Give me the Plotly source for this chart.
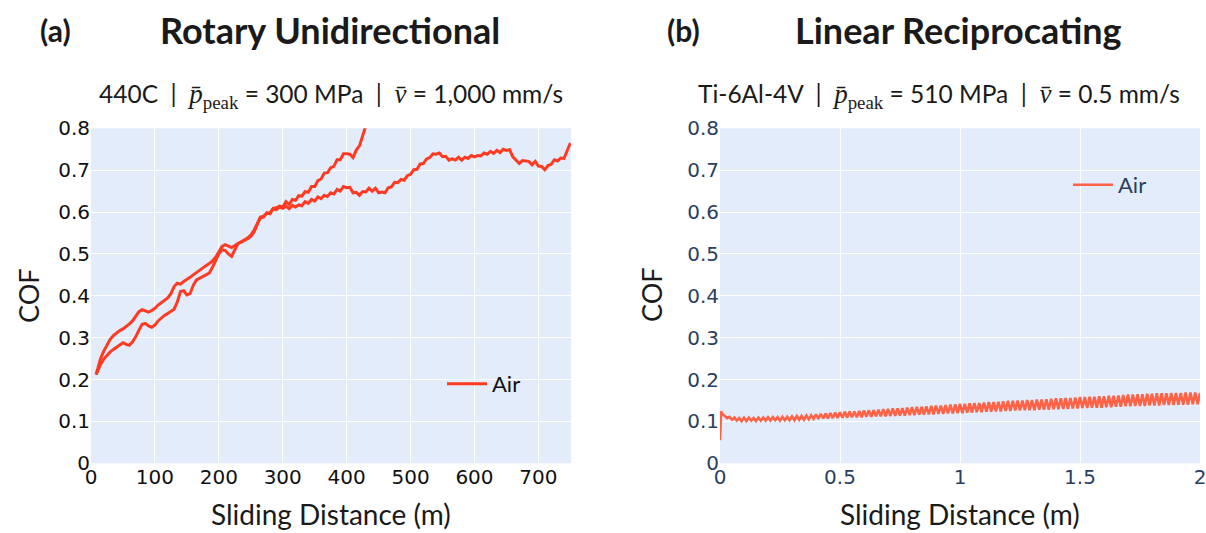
import plotly.graph_objects as go

# ---------------- data: panel (a) Rotary Unidirectional, 440C ----------------
dist_a1 = [8, 10, 15, 20, 25, 30, 35, 40, 45, 50, 55, 60, 65, 70, 75, 80, 85, 90, 95, 100,
           105, 110, 115, 120, 125, 130, 135, 140, 145, 150, 155, 160, 165, 170, 175, 180,
           185, 190, 195, 200, 205, 210, 215, 220, 225, 230, 235, 240, 245, 250, 255, 260,
           265, 270, 275, 280, 285, 290, 295, 300, 305, 310, 315, 320, 325, 330, 335, 340,
           345, 350, 355, 360, 365, 370, 375, 380, 385, 390, 395, 400, 405, 410, 415, 420,
           425, 430, 435]
cof_a1 = [0.212, 0.225, 0.250, 0.268, 0.283, 0.296, 0.305, 0.312, 0.317, 0.321, 0.326, 0.333,
          0.340, 0.350, 0.362, 0.367, 0.363, 0.361, 0.365, 0.370, 0.378, 0.384, 0.389, 0.395,
          0.405, 0.422, 0.430, 0.428, 0.434, 0.438, 0.444, 0.450, 0.456, 0.460, 0.466, 0.472,
          0.477, 0.483, 0.492, 0.505, 0.518, 0.522, 0.518, 0.515, 0.520, 0.524, 0.528, 0.533,
          0.538, 0.545, 0.556, 0.572, 0.588, 0.590, 0.598, 0.598, 0.609, 0.610, 0.614, 0.612,
          0.625, 0.618, 0.630, 0.628, 0.639, 0.638, 0.649, 0.647, 0.661, 0.661, 0.675, 0.679,
          0.693, 0.694, 0.706, 0.709, 0.725, 0.725, 0.739, 0.739, 0.738, 0.730, 0.748, 0.758,
          0.782, 0.802, 0.830]

dist_a2 = [8, 10, 15, 20, 25, 30, 35, 40, 45, 50, 55, 60, 65, 70, 75, 80, 85, 90, 95, 100,
           105, 110, 115, 120, 125, 130, 135, 140, 145, 150, 155, 160, 165, 170, 175, 180,
           185, 190, 195, 200, 205, 210, 215, 220, 225, 230, 235, 240, 245, 250, 255, 260,
           265, 270, 275, 280, 285, 290, 295, 300, 305, 310, 315, 320, 325, 330, 335, 340,
           345, 350, 355, 360, 365, 370, 375, 380, 385, 390, 395, 400, 405, 410, 415, 420,
           425, 430, 435, 440, 445, 450, 455, 460, 465, 470, 475, 480, 485, 490, 495, 500,
           505, 510, 515, 520, 525, 530, 535, 540, 545, 550, 555, 560, 565, 570, 575, 580,
           585, 590, 595, 600, 605, 610, 615, 620, 625, 630, 635, 640, 645, 650, 655, 660,
           665, 670, 675, 680, 685, 690, 695, 700, 705, 710, 715, 720, 725, 730, 735, 740,
           745, 750]
cof_a2 = [0.212, 0.220, 0.236, 0.249, 0.258, 0.266, 0.272, 0.278, 0.284, 0.288, 0.284, 0.282,
          0.290, 0.302, 0.318, 0.332, 0.334, 0.328, 0.325, 0.330, 0.340, 0.347, 0.353, 0.358,
          0.362, 0.368, 0.385, 0.410, 0.412, 0.402, 0.405, 0.425, 0.438, 0.442, 0.446, 0.450,
          0.454, 0.468, 0.485, 0.500, 0.510, 0.508, 0.500, 0.494, 0.510, 0.525, 0.528, 0.532,
          0.536, 0.542, 0.552, 0.570, 0.586, 0.588, 0.598, 0.596, 0.608, 0.606, 0.612, 0.609,
          0.614, 0.608, 0.616, 0.612, 0.617, 0.615, 0.625, 0.621, 0.630, 0.626, 0.636, 0.632,
          0.640, 0.637, 0.646, 0.643, 0.654, 0.650, 0.661, 0.658, 0.659, 0.646, 0.647, 0.640,
          0.649, 0.648, 0.657, 0.650, 0.657, 0.646, 0.648, 0.646, 0.658, 0.660, 0.671, 0.670,
          0.678, 0.676, 0.687, 0.690, 0.701, 0.702, 0.715, 0.716, 0.727, 0.730, 0.739, 0.738,
          0.741, 0.732, 0.733, 0.724, 0.727, 0.724, 0.731, 0.724, 0.731, 0.728, 0.735, 0.732,
          0.735, 0.734, 0.741, 0.738, 0.745, 0.740, 0.747, 0.742, 0.750, 0.747, 0.749, 0.732,
          0.725, 0.716, 0.723, 0.722, 0.721, 0.713, 0.721, 0.710, 0.709, 0.701, 0.711, 0.714,
          0.725, 0.722, 0.729, 0.728, 0.748, 0.765]

# ---------------- data: panel (b) Linear Reciprocating, Ti-6Al-4V ----------------
dist_b = [0.00, 0.005, 0.01, 0.02, 0.03, 0.04, 0.05, 0.06, 0.07, 0.08, 0.09,
          0.10, 0.11, 0.12, 0.13, 0.14, 0.15, 0.16, 0.17, 0.18, 0.19,
          0.20, 0.21, 0.22, 0.23, 0.24, 0.25, 0.26, 0.27, 0.28, 0.29,
          0.30, 0.31, 0.32, 0.33, 0.34, 0.35, 0.36, 0.37, 0.38, 0.39,
          0.40, 0.41, 0.42, 0.43, 0.44, 0.45, 0.46, 0.47, 0.48, 0.49,
          0.50, 0.51, 0.52, 0.53, 0.54, 0.55, 0.56, 0.57, 0.58, 0.59,
          0.60, 0.61, 0.62, 0.63, 0.64, 0.65, 0.66, 0.67, 0.68, 0.69,
          0.70, 0.71, 0.72, 0.73, 0.74, 0.75, 0.76, 0.77, 0.78, 0.79,
          0.80, 0.81, 0.82, 0.83, 0.84, 0.85, 0.86, 0.87, 0.88, 0.89,
          0.90, 0.91, 0.92, 0.93, 0.94, 0.95, 0.96, 0.97, 0.98, 0.99,
          1.00, 1.01, 1.02, 1.03, 1.04, 1.05, 1.06, 1.07, 1.08, 1.09,
          1.10, 1.11, 1.12, 1.13, 1.14, 1.15, 1.16, 1.17, 1.18, 1.19,
          1.20, 1.21, 1.22, 1.23, 1.24, 1.25, 1.26, 1.27, 1.28, 1.29,
          1.30, 1.31, 1.32, 1.33, 1.34, 1.35, 1.36, 1.37, 1.38, 1.39,
          1.40, 1.41, 1.42, 1.43, 1.44, 1.45, 1.46, 1.47, 1.48, 1.49,
          1.50, 1.51, 1.52, 1.53, 1.54, 1.55, 1.56, 1.57, 1.58, 1.59,
          1.60, 1.61, 1.62, 1.63, 1.64, 1.65, 1.66, 1.67, 1.68, 1.69,
          1.70, 1.71, 1.72, 1.73, 1.74, 1.75, 1.76, 1.77, 1.78, 1.79,
          1.80, 1.81, 1.82, 1.83, 1.84, 1.85, 1.86, 1.87, 1.88, 1.89,
          1.90, 1.91, 1.92, 1.93, 1.94, 1.95, 1.96, 1.97, 1.98, 1.99, 2.00]
cof_b = [0.055, 0.124, 0.118, 0.112, 0.108, 0.111, 0.104, 0.109, 0.102, 0.108, 0.101,
         0.109, 0.101, 0.109, 0.102, 0.108, 0.101, 0.109, 0.102, 0.109, 0.102,
         0.110, 0.102, 0.110, 0.103, 0.110, 0.102, 0.111, 0.103, 0.111, 0.103,
         0.112, 0.103, 0.113, 0.104, 0.113, 0.104, 0.114, 0.105, 0.115, 0.106,
         0.117, 0.106, 0.118, 0.107, 0.119, 0.107, 0.120, 0.108, 0.121, 0.108,
         0.122, 0.109, 0.123, 0.109, 0.124, 0.110, 0.124, 0.110, 0.125, 0.110,
         0.126, 0.111, 0.127, 0.111, 0.127, 0.112, 0.128, 0.112, 0.129, 0.112,
         0.130, 0.113, 0.131, 0.113, 0.131, 0.114, 0.132, 0.114, 0.133, 0.115,
         0.134, 0.115, 0.135, 0.116, 0.135, 0.116, 0.136, 0.117, 0.137, 0.117,
         0.138, 0.118, 0.138, 0.118, 0.139, 0.119, 0.140, 0.119, 0.141, 0.120,
         0.142, 0.120, 0.142, 0.121, 0.143, 0.121, 0.144, 0.122, 0.144, 0.122,
         0.145, 0.123, 0.146, 0.123, 0.146, 0.124, 0.147, 0.124, 0.148, 0.125,
         0.149, 0.125, 0.149, 0.126, 0.150, 0.126, 0.150, 0.127, 0.151, 0.127,
         0.151, 0.127, 0.152, 0.128, 0.152, 0.128, 0.153, 0.128, 0.154, 0.129,
         0.155, 0.129, 0.155, 0.130, 0.156, 0.130, 0.156, 0.131, 0.157, 0.131,
         0.158, 0.132, 0.158, 0.132, 0.159, 0.133, 0.159, 0.133, 0.160, 0.133,
         0.160, 0.134, 0.161, 0.134, 0.161, 0.135, 0.162, 0.135, 0.163, 0.136,
         0.164, 0.136, 0.164, 0.137, 0.165, 0.137, 0.165, 0.137, 0.166, 0.138,
         0.166, 0.138, 0.167, 0.138, 0.167, 0.139, 0.167, 0.139, 0.168, 0.139,
         0.168, 0.140, 0.168, 0.140, 0.169, 0.140, 0.169, 0.141, 0.169, 0.141, 0.168]

x_ticks_a = [0, 100, 200, 300, 400, 500, 600, 700]
x_ticks_b = [0, 0.5, 1, 1.5, 2]
x_ticktext_b = ["0", "0.5", "1", "1.5", "2"]
y_ticks = [0, 0.1, 0.2, 0.3, 0.4, 0.5, 0.6, 0.7, 0.8]

RED_A = "#FF3A22"
RED_B = "#FF6347"
W, H = 1206, 533
BG = "#E3ECFA"

fig = go.Figure()
fig.add_trace(go.Scatter(x=dist_a1, y=cof_a1, mode="lines", name="Air",
                         line=dict(color=RED_A, width=3), legend="legend",
                         legendgroup="a", showlegend=True, xaxis="x", yaxis="y"))
fig.add_trace(go.Scatter(x=dist_a2, y=cof_a2, mode="lines", name="Air",
                         line=dict(color=RED_A, width=3), legend="legend",
                         legendgroup="a", showlegend=False, xaxis="x", yaxis="y"))
fig.add_trace(go.Scatter(x=dist_b, y=cof_b, mode="lines", name="Air",
                         line=dict(color=RED_B, width=2.6), legend="legend2",
                         showlegend=True, xaxis="x2", yaxis="y2"))

def px(x):
    return x / W

def py(y):
    return 1 - y / H

xdomA = [px(91), px(571)]
xdomB = [px(720), px(1200)]
ydom = [py(463.3), py(128.3)]

tick_font_a = dict(family="DejaVu Sans", size=20, color="#111111")
tick_font_b = dict(family="DejaVu Sans", size=20, color="#2a3f5f")

common_axis = dict(showgrid=True, gridcolor="white", gridwidth=1, zeroline=False,
                   ticks="", automargin=False, ticklabeloverflow="allow", showline=False)

fig.update_layout(
    width=W, height=H,
    margin=dict(l=0, r=0, t=0, b=0, autoexpand=False),
    paper_bgcolor="white",
    plot_bgcolor=BG,
    showlegend=True,
    xaxis=dict(domain=xdomA, range=[0, 751], tickvals=x_ticks_a, tickfont=tick_font_a,
               anchor="y", **common_axis),
    yaxis=dict(domain=ydom, range=[0, 0.8], tickvals=y_ticks, tickfont=tick_font_a,
               anchor="x", **common_axis),
    xaxis2=dict(domain=xdomB, range=[0, 2], tickvals=x_ticks_b, ticktext=x_ticktext_b,
                tickfont=tick_font_b, anchor="y2", **common_axis),
    yaxis2=dict(domain=ydom, range=[0, 0.8], tickvals=y_ticks, tickfont=tick_font_b,
                anchor="x2", **common_axis),
    legend=dict(x=px(442), y=py(384), xanchor="left", yanchor="middle",
                bgcolor="rgba(0,0,0,0)", font=dict(family="Lato", size=22, color="#111111"),
                itemwidth=40),
    legend2=dict(x=px(1068), y=py(185), xanchor="left", yanchor="middle",
                 bgcolor="rgba(0,0,0,0)", font=dict(family="Lato", size=22, color="#2a3f5f"),
                 itemwidth=40),
)

TITLE_FONT = "Lato"
DARK = "#1a1a1a"
SERIF = "Liberation Serif"

def ann(text, x, y, size, bold=False, family=TITLE_FONT, angle=0, color=DARK,
        xanchor="center", yanchor="middle"):
    fig.add_annotation(text=("<b>%s</b>" % text) if bold else text,
                       x=px(x), y=py(y), xref="paper", yref="paper",
                       xanchor=xanchor, yanchor=yanchor, showarrow=False,
                       textangle=angle, font=dict(family=family, size=size, color=color))

ann("(a)", 55, 30, 30, bold=True)
ann("Rotary Unidirectional", 330, 30, 36, bold=True)
ann("(b)", 683, 30, 30, bold=True)
ann("Linear Reciprocating", 958, 30, 36, bold=True)

pbar = "<span style='font-family:%s;font-size:27px'><i>p\u0304</i><sub>peak</sub></span>" % SERIF
vbar = "<span style='font-family:%s;font-size:27px'><i>v\u0304</i></span>" % SERIF
sub_a = "440C  |  %s = 300 MPa  |  %s = 1,000 mm/s" % (pbar, vbar)
sub_b = "Ti-6Al-4V  |  %s = 510 MPa  |  %s = 0.5 mm/s" % (pbar, vbar)
ann(sub_a, 331, 96, 24.5)
ann(sub_b, 939, 96, 24.5)

ann("COF", 28, 295, 27, angle=-90)
ann("COF", 651, 295, 27, angle=-90)
ann("Sliding Distance (m)", 331, 533, 28, yanchor="bottom")
ann("Sliding Distance (m)", 960, 533, 28, yanchor="bottom")

fig.write_html("out.html")
